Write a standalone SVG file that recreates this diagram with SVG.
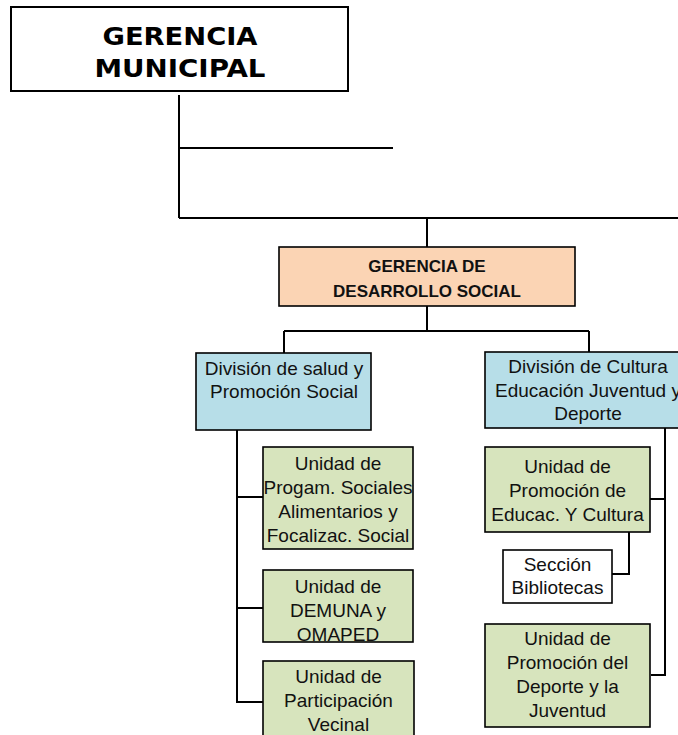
<svg xmlns="http://www.w3.org/2000/svg" width="678" height="735" viewBox="0 0 678 735">
<style>
.box{stroke:#000;stroke-width:1.6}
.green{fill:#D7E4BD}
.blue{fill:#B7DEE8}
.orange{fill:#FBD4B4}
.white{fill:#fff}
.t{font-family:"Liberation Sans",Arial,sans-serif;font-size:19px;fill:#111;text-anchor:middle}
.tb{font-family:"Liberation Sans",Arial,sans-serif;font-size:17px;font-weight:bold;fill:#111;text-anchor:middle}
.tv{font-family:"DejaVu Sans",Verdana,sans-serif;font-size:24px;font-weight:bold;fill:#000;text-anchor:middle}
.c{fill:none;stroke:#000;stroke-width:2}
</style>
<rect width="678" height="735" fill="#fff"/>
<g id="connectors">
<path class="c" d="M179,95 V218 M179,148 H393 M179,218 H678 M427,218 V247"/>
<path class="c" d="M427,306 V331 M284,331 H589 M284,331 V353 M589,331 V352"/>
<path class="c" d="M237,430 V702 H263 M237,497 H263 M237,608 H263"/>
<path class="c" d="M665,428 V675 H651 M665,499 H650 M629,532 V574 H612"/>
</g>
<g id="gerencia-municipal">
<rect x="11" y="7" width="337" height="84" fill="#fff" stroke="#000" stroke-width="2"/>
<text class="tv" x="180" y="45" textLength="155" lengthAdjust="spacingAndGlyphs">GERENCIA</text>
<text class="tv" x="180" y="77" textLength="171" lengthAdjust="spacingAndGlyphs">MUNICIPAL</text>
</g>
<g id="gerencia-desarrollo-social">
<rect class="box orange" x="279" y="247" width="296" height="59"/>
<text class="tb" x="427" y="271.5">GERENCIA DE</text>
<text class="tb" x="427" y="297">DESARROLLO SOCIAL</text>
</g>
<g id="division-salud">
<rect class="box blue" x="196" y="353" width="175" height="77"/>
<text class="t" x="284" y="375">División de salud y</text>
<text class="t" x="284" y="398">Promoción Social</text>
</g>
<g id="division-cultura">
<rect class="box blue" x="485" y="352" width="210" height="76"/>
<text class="t" x="588" y="373">División de Cultura</text>
<text class="t" x="588" y="397">Educación Juventud y</text>
<text class="t" x="588" y="420">Deporte</text>
</g>
<g id="unidad-progam">
<rect class="box green" x="263" y="447" width="150" height="102"/>
<text class="t" x="338" y="470">Unidad de</text>
<text class="t" x="338" y="494">Progam. Sociales</text>
<text class="t" x="338" y="518">Alimentarios y</text>
<text class="t" x="338" y="542">Focalizac. Social</text>
</g>
<g id="unidad-demuna">
<rect class="box green" x="263" y="570" width="150" height="72"/>
<text class="t" x="338" y="593">Unidad de</text>
<text class="t" x="338" y="617">DEMUNA y</text>
<text class="t" x="338" y="641">OMAPED</text>
</g>
<g id="unidad-participacion">
<rect class="box green" x="263" y="661" width="151" height="90"/>
<text class="t" x="338.5" y="683">Unidad de</text>
<text class="t" x="338.5" y="707">Participación</text>
<text class="t" x="338.5" y="731">Vecinal</text>
</g>
<g id="unidad-educacion">
<rect class="box green" x="485" y="447" width="165" height="85"/>
<text class="t" x="567.5" y="473">Unidad de</text>
<text class="t" x="567.5" y="497">Promoción de</text>
<text class="t" x="567.5" y="521">Educac. Y Cultura</text>
</g>
<g id="seccion-bibliotecas">
<rect class="box white" x="503" y="550" width="109" height="53"/>
<text class="t" x="557.5" y="571">Sección</text>
<text class="t" x="557.5" y="594">Bibliotecas</text>
</g>
<g id="unidad-deporte">
<rect class="box green" x="485" y="624" width="165" height="103"/>
<text class="t" x="567.5" y="645">Unidad de</text>
<text class="t" x="567.5" y="669">Promoción del</text>
<text class="t" x="567.5" y="693">Deporte y la</text>
<text class="t" x="567.5" y="717">Juventud</text>
</g>
</svg>
